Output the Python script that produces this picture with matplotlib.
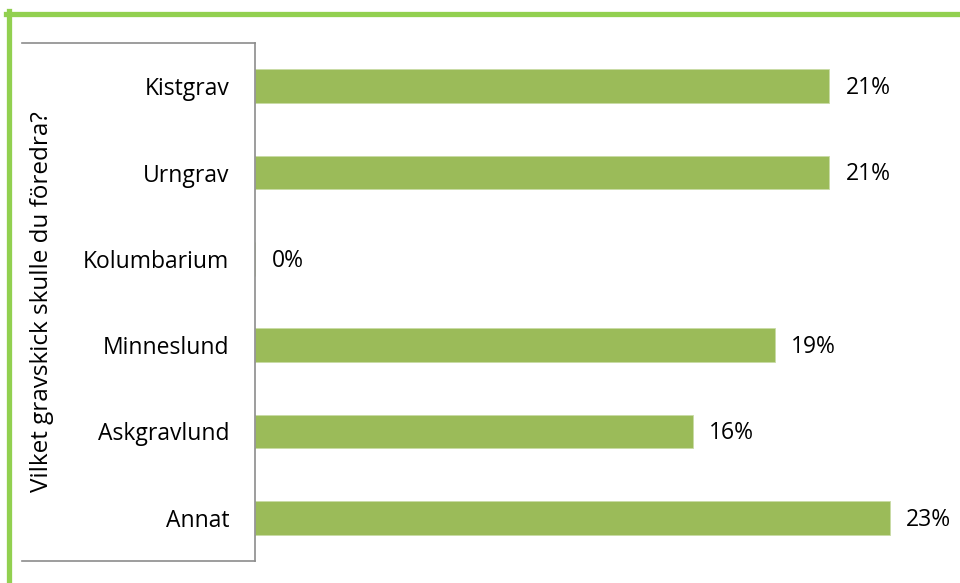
import matplotlib
matplotlib.use("Agg")
import matplotlib.pyplot as plt
from matplotlib.lines import Line2D

categories = ["Kistgrav", "Urngrav", "Kolumbarium", "Minneslund", "Askgravlund", "Annat"]
values = [21.0, 21.0, 0.0, 19.0, 16.0, 23.2]
labels = ["21%", "21%", "0%", "19%", "16%", "23%"]
ylabel = "Vilket gravskick skulle du föredra?"

plt.rcParams['font.family'] = ['Open Sans', 'DejaVu Sans']

fig = plt.figure(figsize=(9.6, 5.83), dpi=100)
ax = fig.add_axes([255 / 960, 22 / 583, 683.75 / 960, 518 / 583])

ypos = list(range(len(categories)))
ax.barh(ypos, values, height=0.39, color="#9bbb59", edgecolor="#c9dba6", linewidth=0.6)
for y, v, t in zip(ypos, values, labels):
    ax.text(v + 0.6, y + 0.02, t, va="center", ha="left", fontsize=16.5, color="black")

ax.set_xlim(0, 25)
ax.set_ylim(5.5, -0.5)
ax.set_yticks(ypos)
ax.set_yticklabels(categories, fontsize=16.5)
ax.tick_params(axis="y", length=0, pad=18.5)
ax.set_xticks([])
for s in ["top", "right", "bottom"]:
    ax.spines[s].set_visible(False)
ax.spines["left"].set_color("#8c8c8c")
ax.spines["left"].set_linewidth(1.2)

ax.set_ylabel(ylabel, fontsize=17.5)
ax.yaxis.set_label_coords((54 - 255) / 683.75, 0.5)

# grey box around the category labels
x0 = (22 - 255) / 683.75
for yy in (0, 1):
    ax.add_line(Line2D([x0, 0], [yy, yy], transform=ax.transAxes, color="#8c8c8c",
                       lw=1.2, clip_on=False))

# green frame on top and left
fig.add_artist(Line2D([6 / 960, 1], [1 - 13.5 / 583, 1 - 13.5 / 583], color="#92d050", lw=3.8))
fig.add_artist(Line2D([8.5 / 960, 8.5 / 960], [0, 1 - 11 / 583], color="#92d050", lw=3.8))

fig.savefig("out.png", dpi=100)
